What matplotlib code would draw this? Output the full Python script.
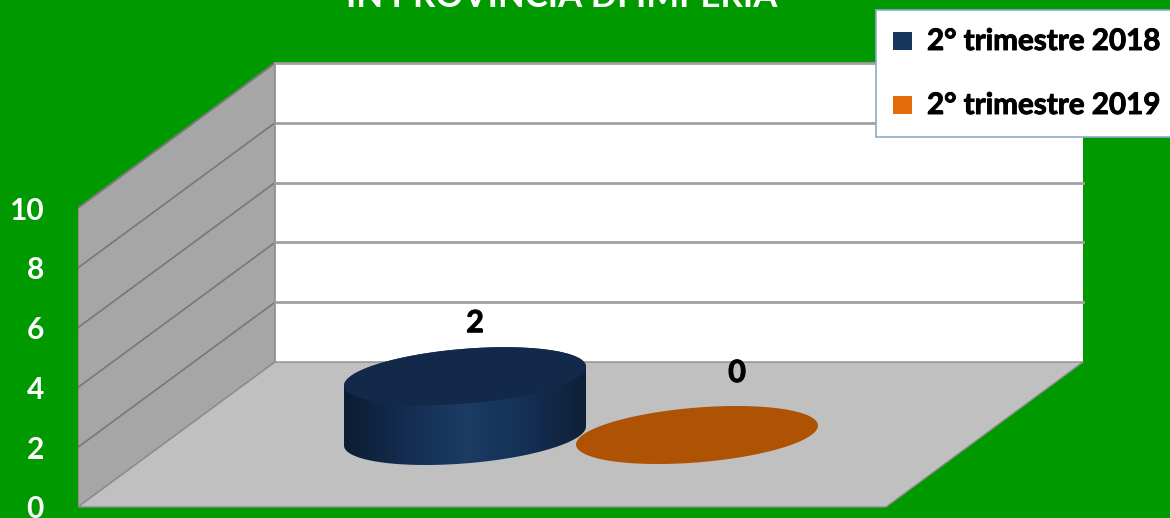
"""Cilindro 3D: confronto 2° trimestre 2018 / 2019 in provincia di Imperia."""

import matplotlib
matplotlib.use("Agg")
import matplotlib.patheffects as pe
import matplotlib.pyplot as plt
import numpy as np
from matplotlib.colors import LinearSegmentedColormap
from matplotlib.patches import Polygon, Rectangle

# ---------------------------------------------------------------------------
# Dati
# ---------------------------------------------------------------------------
title_text = "IN PROVINCIA DI IMPERIA"
series_names = ["2° trimestre 2018", "2° trimestre 2019"]
series_values = [2, 0]
value_ticks = [0, 2, 4, 6, 8, 10]

# ---------------------------------------------------------------------------
# Layout (pixel della figura)
# ---------------------------------------------------------------------------
W, H = 1170, 518
GREEN = "#009900"
WALL = "#a6a6a6"
FLOOR = "#c0c0c0"
LINE = "#8c8c8c"
FONT = "Lato"

LEFT, RIGHT = 78, 886           # spigolo anteriore del pavimento
DEPTH_X = 197                   # profondita' in px orizzontali
PX_PER_UNIT = 29.9
DEPTH_Y = 145 / PX_PER_UNIT     # profondita' in unita' di valore
Y_BOTTOM = 507

centers_x = [465, 697]
bases = [(507 - 436) / PX_PER_UNIT, (507 - 435) / PX_PER_UNIT]
top_colors = ["#12294a", "#ae5303"]
legend_colors = ["#17375e", "#e46c0a"]
label_dx = [10, 40]
label_dy = [53, 62]
RX, RD = 114.4, 39.4            # raggi del disco nel piano del pavimento
HEAVY = [pe.withStroke(linewidth=0.7, foreground="black")]

side_cmap = LinearSegmentedColormap.from_list(
    "side", ["#0c1c32", "#142d50", "#1c3c64", "#143055", "#0f2037"]
)


def disc(cx, level, t0=0.0, t1=2 * np.pi):
    """Arco del disco (cerchio nel piano del pavimento), con t in radianti."""
    t = np.linspace(t0, t1, 181)
    x = cx + RX * np.cos(t) + RD * np.sin(t)
    y = level + (RD * 145 / DEPTH_X) * np.sin(t) / PX_PER_UNIT
    return x, y


fig = plt.figure(figsize=(W / 100, H / 100), dpi=100, facecolor=GREEN)
ax = fig.add_axes([LEFT / W, 0, 1 - LEFT / W, 1])
ax.patch.set_visible(False)
for spine in ax.spines.values():
    spine.set_visible(False)

# Asse dei valori
ax.set_xticks([])
ax.set_yticks(value_ticks)
ax.set_yticklabels([str(v) for v in value_ticks], color="white",
                   fontfamily=FONT, fontweight="bold", fontsize=21.5)
ax.tick_params(axis="y", length=0, pad=24.5)

# Pareti e pavimento
top = value_ticks[-1]
ax.add_patch(Polygon([(LEFT + DEPTH_X, DEPTH_Y), (RIGHT + DEPTH_X, DEPTH_Y),
                      (RIGHT + DEPTH_X, DEPTH_Y + top), (LEFT + DEPTH_X, DEPTH_Y + top)],
                     facecolor="white", edgecolor="none", zorder=1))
ax.add_patch(Polygon([(LEFT, 0), (LEFT + DEPTH_X, DEPTH_Y),
                      (LEFT + DEPTH_X, DEPTH_Y + top), (LEFT, top)],
                     facecolor=WALL, edgecolor=LINE, linewidth=1.2, zorder=1))
ax.add_patch(Polygon([(LEFT, 0), (RIGHT, 0), (RIGHT + DEPTH_X, DEPTH_Y), (LEFT + DEPTH_X, DEPTH_Y)],
                     facecolor=FLOOR, edgecolor=LINE, linewidth=1.0, zorder=1))

# Griglia
for v in value_ticks[1:]:
    ax.plot([LEFT, LEFT + DEPTH_X], [v, v + DEPTH_Y], color="#777777", lw=1.2, zorder=2)
    ax.plot([LEFT + DEPTH_X, RIGHT + DEPTH_X], [v + DEPTH_Y, v + DEPTH_Y],
            color="#a0a0a0", lw=2.0, zorder=2)

# Cilindri
t_right = np.arctan2(RD, RX)    # punto piu' a destra del contorno
for i, value in enumerate(series_values):
    cx, base = centers_x[i], bases[i]
    xt, yt = disc(cx, base + value)
    if value > 0:
        # meta' inferiore del disco di base + meta' superiore del disco alto
        xb, yb = disc(cx, base, t_right + np.pi, t_right + 2 * np.pi)
        xu, yu = disc(cx, base + value, t_right, t_right + np.pi)
        body = np.r_[np.c_[xb, yb], np.c_[xu, yu]]
        clip = Polygon(body, transform=ax.transData, facecolor="none", edgecolor="none")
        ax.add_patch(clip)
        grad = np.linspace(0, 1, 256).reshape(1, -1)
        im = ax.imshow(grad, cmap=side_cmap, aspect="auto", zorder=3,
                       extent=(body[:, 0].min(), body[:, 0].max(), base - 2, base + value + 2))
        im.set_clip_path(clip)
    ax.fill(xt, yt, color=top_colors[i], lw=0, zorder=4)
    ax.text(cx + label_dx[i], base + value + label_dy[i] / PX_PER_UNIT, str(value),
            ha="center", va="center", color="black", fontfamily=FONT,
            fontweight="bold", fontsize=22, zorder=5, path_effects=HEAVY)

ax.set_xlim(LEFT, W)
ax.set_ylim(-(H - Y_BOTTOM) / PX_PER_UNIT, Y_BOTTOM / PX_PER_UNIT)

# Titolo (tagliato dal bordo superiore come nell'originale)
fig.text(562 / W, 1 - 7 / H, title_text, ha="center", va="baseline", color="white",
         fontfamily=FONT, fontweight="bold", fontsize=25)

# Legenda
fig.add_artist(Rectangle((876 / W, 1 - 137 / H), 300 / W, 127 / H, transform=fig.transFigure,
                         facecolor="white", edgecolor="#8eaad0", linewidth=1.2, zorder=6))
for i, name in enumerate(series_names):
    y_mid = 41 + 64 * i
    fig.add_artist(Rectangle((893 / W, 1 - (y_mid + 9) / H), 19 / W, 18 / H,
                             transform=fig.transFigure, facecolor=legend_colors[i],
                             edgecolor="none", zorder=7))
    fig.text(927 / W, 1 - y_mid / H, name, ha="left", va="center", color="black",
             fontfamily=FONT, fontweight="bold", fontsize=21.3, zorder=7, path_effects=HEAVY)

fig.savefig("out.png", dpi=100, facecolor=GREEN)
